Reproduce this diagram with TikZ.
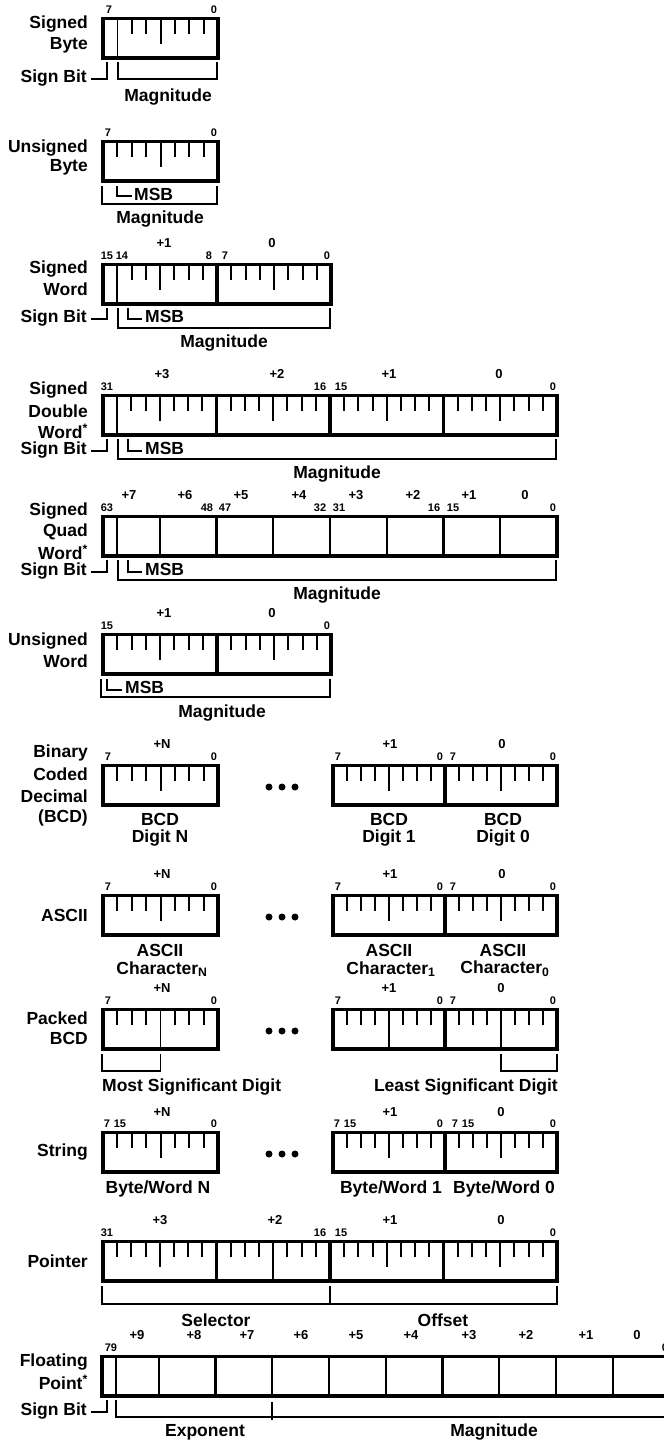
\documentclass[tikz,border=0pt]{standalone}
\usepackage{fontspec}
\setmainfont{Liberation Sans}
\tikzset{
 bx/.style={line width=3.4pt},
 dv/.style={line width=3.4pt},
 cdv/.style={line width=2.2pt},
 thn/.style={line width=1.8pt},
 tk/.style={line width=2pt},
 br/.style={line width=1.7pt},
 nm/.style={font=\fontsize{17.5}{20}\selectfont\bfseries, inner sep=0pt, anchor=east},
 lb/.style={font=\fontsize{17.5}{20}\selectfont\bfseries, inner sep=0pt},
 bit/.style={font=\fontsize{11}{12}\selectfont\bfseries, inner sep=0pt},
 byt/.style={font=\fontsize{13}{14}\selectfont\bfseries, inner sep=0pt},
 dot/.style={fill=black, circle, inner sep=0pt, minimum size=7pt}
}
\newcommand\stks[3]{\foreach \k in {#3}{\draw[tk] ({#1+(#2-#1)*\k/8},1.5) -- ++(0,15);}}
\newcommand\ltk[2]{\draw[tk] ({(#1+#2)/2},1.5) -- ++(0,25);}
\newcommand\ftk[2]{\draw[thn] ({(#1+#2)/2},1.5) -- ++(0,39.5);}
\newcommand\fullbyte[2]{\stks{#1}{#2}{1,2,3,5,6,7}\ltk{#1}{#2}}
\begin{document}
\begin{tikzpicture}[x=1pt,y=-1pt,line join=miter]
\useasboundingbox (0,0) rectangle (664,1441);

% ---------- Signed Byte
\begin{scope}[shift={(0,17)}]
\node[nm] (n1a) at (88,7) {Signed};
\node[nm] (n1b) at (88,28) {Byte};
\node[bit] (b1a) at (109,-7) {7};
\node[bit] (b1b) at (214,-7) {0};
\draw[bx] (103,1.5) rectangle (218,41);
\draw[thn] (117.4,1.5) -- (117.4,41);
\stks{103}{218}{2,3,5,6,7}\ltk{103}{218}
\node[nm] (s1) at (87,61) {Sign Bit};
\draw[br] (91,62) -- (107,62) -- (107,45);
\draw[br] (118,45) -- (118,62) -- (217,62) -- (217,45);
\node[lb] (m1) at (168,80) {Magnitude};
\end{scope}

% ---------- Unsigned Byte
\begin{scope}[shift={(0,140)}]
\node[nm] (n2a) at (88,8) {Unsigned};
\node[nm] (n2b) at (88,27) {Byte};
\node[bit] (b2a) at (108,-7) {7};
\node[bit] (b2b) at (214,-7) {0};
\draw[bx] (103,1.5) rectangle (218,41);
\fullbyte{103}{218}
\draw[br] (102,46) -- (102,64) -- (217,64) -- (217,46);
\draw[br] (117,46) -- (117,56) -- (132,56);
\node[lb,anchor=west] (msb2) at (134,54) {MSB};
\node[lb] (m2) at (160,79) {Magnitude};
\end{scope}

% ---------- Signed Word
\begin{scope}[shift={(0,263)}]
\node[nm] (n3a) at (88,6) {Signed};
\node[nm] (n3b) at (88,26) {Word};
\node[byt] (y3a) at (164,-20) {+1};
\node[byt] (y3b) at (272,-20) {0};
\node[bit] (b3a) at (107,-7) {15};
\node[bit] (b3b) at (122,-7) {14};
\node[bit] (b3c) at (209,-7) {8};
\node[bit] (b3d) at (225,-7) {7};
\node[bit] (b3e) at (327,-7) {0};
\draw[bx] (103,1.5) rectangle (331,41);
\draw[dv] (217,1.5) -- (217,41);
\draw[thn] (117.3,1.5) -- (117.3,41);
\stks{103}{217}{2,3,5,6,7}\ltk{103}{217}
\fullbyte{217}{331}
\node[nm] (s3) at (87,55) {Sign Bit};
\draw[br] (91,56) -- (107,56) -- (107,45);
\draw[br] (128,45) -- (128,56) -- (142,56);
\node[lb,anchor=west] (msb3) at (145,53) {MSB};
\draw[br] (118,45) -- (118,65) -- (330,65) -- (330,45);
\node[lb] (m3) at (224,80) {Magnitude};
\end{scope}

% ---------- Signed Double Word
\begin{scope}[shift={(0,394)}]
\node[nm] (n4a) at (88,-4) {Signed};
\node[nm] (n4b) at (88,17) {Double};
\node[nm] (n4c) at (88,37) {Word\textsuperscript{*}};
\node[byt] (y4a) at (162,-20) {+3};
\node[byt] (y4b) at (277,-20) {+2};
\node[byt] (y4c) at (389,-20) {+1};
\node[byt] (y4d) at (499,-20) {0};
\node[bit] (b4a) at (107,-7) {31};
\node[bit] (b4b) at (320,-7) {16};
\node[bit] (b4c) at (341,-7) {15};
\node[bit] (b4d) at (553,-7) {0};
\draw[bx] (103,1.5) rectangle (557,41);
\foreach \xx in {216.5,330,443.5} \draw[dv] (\xx,1.5) -- (\xx,41);
\draw[thn] (117.2,1.5) -- (117.2,41);
\stks{103}{216.5}{2,3,5,6,7}\ltk{103}{216.5}
\fullbyte{216.5}{330}
\fullbyte{330}{443.5}
\fullbyte{443.5}{557}
\node[nm] (s4) at (87,56) {Sign Bit};
\draw[br] (91,57) -- (107,57) -- (107,45);
\draw[br] (128,45) -- (128,57) -- (142,57);
\node[lb,anchor=west] (msb4) at (145,54) {MSB};
\draw[br] (118,45) -- (118,65) -- (556,65) -- (556,45);
\node[lb] (m4) at (337,80) {Magnitude};
\end{scope}

% ---------- Signed Quad Word
\begin{scope}[shift={(0,515)}]
\node[nm] (n5a) at (88,-4) {Signed};
\node[nm] (n5b) at (88,17) {Quad};
\node[nm] (n5c) at (88,37) {Word\textsuperscript{*}};
\foreach \xx/\tt [count=\i] in {129/+7,185/+6,241/+5,299/+4,356/+3,413/+2,469/+1,525/0}
  \node[byt] (y5\i) at (\xx,-20) {\tt};
\foreach \xx/\tt [count=\i] in {107/63,207/48,225/47,320/32,339/31,434/16,453/15,553/0}
  \node[bit] (b5\i) at (\xx,-7) {\tt};
\draw[bx] (103,1.5) rectangle (557,41);
\foreach \xx in {159.75,216.5,273.25,330,386.75,443.5,500.25} \draw[cdv] (\xx,1.5) -- (\xx,41);
\draw[thn] (117.2,1.5) -- (117.2,41);
\node[nm] (s5) at (87,56) {Sign Bit};
\draw[br] (91,57) -- (107,57) -- (107,45);
\draw[br] (128,45) -- (128,57) -- (142,57);
\node[lb,anchor=west] (msb5) at (145,54) {MSB};
\draw[br] (118,45) -- (118,65) -- (556,65) -- (556,45);
\node[lb] (m5) at (337,80) {Magnitude};
\end{scope}

% ---------- Unsigned Word
\begin{scope}[shift={(0,633)}]
\node[nm] (n6a) at (88,8) {Unsigned};
\node[nm] (n6b) at (88,28) {Word};
\node[byt] (y6a) at (164,-20) {+1};
\node[byt] (y6b) at (272,-20) {0};
\node[bit] (b6a) at (107,-7) {15};
\node[bit] (b6b) at (327,-7) {0};
\draw[bx] (103,1.5) rectangle (331,41);
\draw[dv] (217,1.5) -- (217,41);
\fullbyte{103}{217}
\fullbyte{217}{331}
\draw[br] (101,46) -- (101,64) -- (330,64) -- (330,46);
\draw[br] (107,46) -- (107,57) -- (122,57);
\node[lb,anchor=west] (msb6) at (125,54) {MSB};
\node[lb] (m6) at (222,80) {Magnitude};
\end{scope}

% ---------- BCD
\begin{scope}[shift={(0,764)}]
\node[nm] (n7a) at (88,-11) {Binary};
\node[nm] (n7b) at (88,10) {Coded};
\node[nm] (n7c) at (88,32) {Decimal};
\node[nm] (n7d) at (88,54) {(BCD)};
\node[byt] (y7a) at (162,-20) {+N};
\node[bit] (b7a) at (108,-7) {7};
\node[bit] (b7b) at (214,-7) {0};
\draw[bx] (103,1.5) rectangle (218,41);
\fullbyte{103}{218}
\node[dot] (d7a) at (269,23) {};
\node[dot] (d7b) at (282,23) {};
\node[dot] (d7c) at (295,23) {};
\node[byt] (y7b) at (390,-20) {+1};
\node[byt] (y7c) at (502,-20) {0};
\node[bit] (b7c) at (338,-7) {7};
\node[bit] (b7d) at (440,-7) {0};
\node[bit] (b7e) at (453,-7) {7};
\node[bit] (b7f) at (553,-7) {0};
\draw[bx] (333,1.5) rectangle (557,41);
\draw[dv] (445,1.5) -- (445,41);
\fullbyte{333}{445}
\fullbyte{445}{557}
\node[lb] (l7a) at (160,55) {BCD};
\node[lb] (l7b) at (160,74) {Digit N};
\node[lb] (l7c) at (389,55) {BCD};
\node[lb] (l7d) at (389,74) {Digit 1};
\node[lb] (l7e) at (503,55) {BCD};
\node[lb] (l7f) at (503,74) {Digit 0};
\end{scope}

% ---------- ASCII
\begin{scope}[shift={(0,894)}]
\node[nm] (n8a) at (88,21) {ASCII};
\node[byt] (y8a) at (162,-20) {+N};
\node[bit] (b8a) at (108,-7) {7};
\node[bit] (b8b) at (214,-7) {0};
\draw[bx] (103,1.5) rectangle (218,41);
\fullbyte{103}{218}
\node[dot] (d8a) at (269,23) {};
\node[dot] (d8b) at (282,23) {};
\node[dot] (d8c) at (295,23) {};
\node[byt] (y8b) at (390,-20) {+1};
\node[byt] (y8c) at (502,-20) {0};
\node[bit] (b8c) at (338,-7) {7};
\node[bit] (b8d) at (440,-7) {0};
\node[bit] (b8e) at (453,-7) {7};
\node[bit] (b8f) at (553,-7) {0};
\draw[bx] (333,1.5) rectangle (557,41);
\draw[dv] (445,1.5) -- (445,41);
\fullbyte{333}{445}
\fullbyte{445}{557}
\node[lb] (l8a) at (160,56) {ASCII};
\node[lb] (l8b) at (162,75) {Character\textsubscript{N}};
\node[lb] (l8c) at (389,56) {ASCII};
\node[lb] (l8d) at (391,75) {Character\textsubscript{1}};
\node[lb] (l8e) at (503,56) {ASCII};
\node[lb] (l8f) at (505,75) {Character\textsubscript{0}};
\end{scope}

% ---------- Packed BCD
\begin{scope}[shift={(0,1008)}]
\node[nm] (n9a) at (88,10) {Packed};
\node[nm] (n9b) at (88,30) {BCD};
\node[byt] (y9a) at (162,-20) {+N};
\node[bit] (b9a) at (108,-7) {7};
\node[bit] (b9b) at (214,-7) {0};
\draw[bx] (103,1.5) rectangle (218,41);
\stks{103}{218}{1,2,3,5,6,7}\ftk{103}{218}
\node[dot] (d9a) at (269,23) {};
\node[dot] (d9b) at (282,23) {};
\node[dot] (d9c) at (295,23) {};
\node[byt] (y9b) at (389,-20) {+1};
\node[byt] (y9c) at (501,-20) {0};
\node[bit] (b9c) at (338,-7) {7};
\node[bit] (b9d) at (440,-7) {0};
\node[bit] (b9e) at (453,-7) {7};
\node[bit] (b9f) at (553,-7) {0};
\draw[bx] (333,1.5) rectangle (557,41);
\draw[dv] (445,1.5) -- (445,41);
\stks{333}{445}{1,2,3,5,6,7}\ftk{333}{445}
\stks{445}{557}{1,2,3,5,6,7}\ftk{445}{557}
\draw[br] (102,46) -- (102,63) -- (160.5,63) -- (160.5,46);
\draw[br] (501,46) -- (501,63) -- (557,63) -- (557,46);
\node[lb,anchor=west] (l9a) at (102,79) {Most Significant Digit};
\node[lb,anchor=east] (l9b) at (558,79) {Least Significant Digit};
\end{scope}

% ---------- String
\begin{scope}[shift={(0,1131)}]
\node[nm] (n10a) at (88,21) {String};
\node[byt] (y10a) at (162,-19) {+N};
\node[bit] (b10a) at (107,-7) {7};
\node[bit] (b10b) at (120,-7) {15};
\node[bit] (b10c) at (214,-7) {0};
\draw[bx] (103,1.5) rectangle (218,41);
\fullbyte{103}{218}
\node[dot] (d10a) at (269,23) {};
\node[dot] (d10b) at (282,23) {};
\node[dot] (d10c) at (295,23) {};
\node[byt] (y10b) at (390,-19) {+1};
\node[byt] (y10c) at (501,-19) {0};
\node[bit] (b10d) at (337,-7) {7};
\node[bit] (b10e) at (350,-7) {15};
\node[bit] (b10f) at (440,-7) {0};
\node[bit] (b10g) at (455,-7) {7};
\node[bit] (b10h) at (468,-7) {15};
\node[bit] (b10i) at (553,-7) {0};
\draw[bx] (333,1.5) rectangle (557,41);
\draw[dv] (445,1.5) -- (445,41);
\fullbyte{333}{445}
\fullbyte{445}{557}
\node[lb] (l10a) at (158,58) {Byte/Word N};
\node[lb] (l10b) at (391,58) {Byte/Word 1};
\node[lb] (l10c) at (504,58) {Byte/Word 0};
\end{scope}

% ---------- Pointer
\begin{scope}[shift={(0,1240)}]
\node[nm] (n11a) at (88,21) {Pointer};
\node[byt] (y11a) at (160,-20) {+3};
\node[byt] (y11b) at (275,-20) {+2};
\node[byt] (y11c) at (390,-20) {+1};
\node[byt] (y11d) at (501,-20) {0};
\node[bit] (b11a) at (107,-7) {31};
\node[bit] (b11b) at (320,-7) {16};
\node[bit] (b11c) at (341,-7) {15};
\node[bit] (b11d) at (553,-7) {0};
\draw[bx] (103,1.5) rectangle (557,41);
\foreach \xx in {216.5,330,443.5} \draw[dv] (\xx,1.5) -- (\xx,41);
\fullbyte{103}{216.5}
\stks{216.5}{330}{1,2,3,5,6,7}\ftk{216.5}{330}
\fullbyte{330}{443.5}
\fullbyte{443.5}{557}
\draw[br] (102,46) -- (102,64) -- (557,64) -- (557,46);
\draw[br] (330,46) -- (330,64);
\node[lb] (l11a) at (216,80) {Selector};
\node[lb] (l11b) at (443,80) {Offset};
\end{scope}

% ---------- Floating Point
\begin{scope}[shift={(0,1355)}]
\node[nm] (n12a) at (88,7) {Floating};
\node[nm] (n12b) at (88,27) {Point\textsuperscript{*}};
\foreach \xx/\tt [count=\i] in {137/+9,194/+8,247/+7,301/+6,356/+5,411/+4,469/+3,526/+2,586/+1,637/0}
  \node[byt] (y12\i) at (\xx,-20) {\tt};
\node[bit] (b12a) at (111,-7) {79};
\node[bit] (b12b) at (665,-7) {0};
\draw[bx] (102,1.5) rectangle (669.5,41);
\foreach \xx in {158.75,215.5,272.25,329,385.75,442.5,499.25,556,612.75} \draw[cdv] (\xx,1.5) -- (\xx,41);
\draw[thn] (116,1.5) -- (116,41);
\node[nm] (s12) at (87,56) {Sign Bit};
\draw[br] (91,57) -- (107,57) -- (107,45);
\draw[br] (116,45) -- (116,62) -- (680,62);
\draw[br] (272.25,47) -- (272.25,65);
\node[lb] (l12a) at (205,77) {Exponent};
\node[lb] (l12b) at (494,77) {Magnitude};
\end{scope}
\end{tikzpicture}
\end{document}
